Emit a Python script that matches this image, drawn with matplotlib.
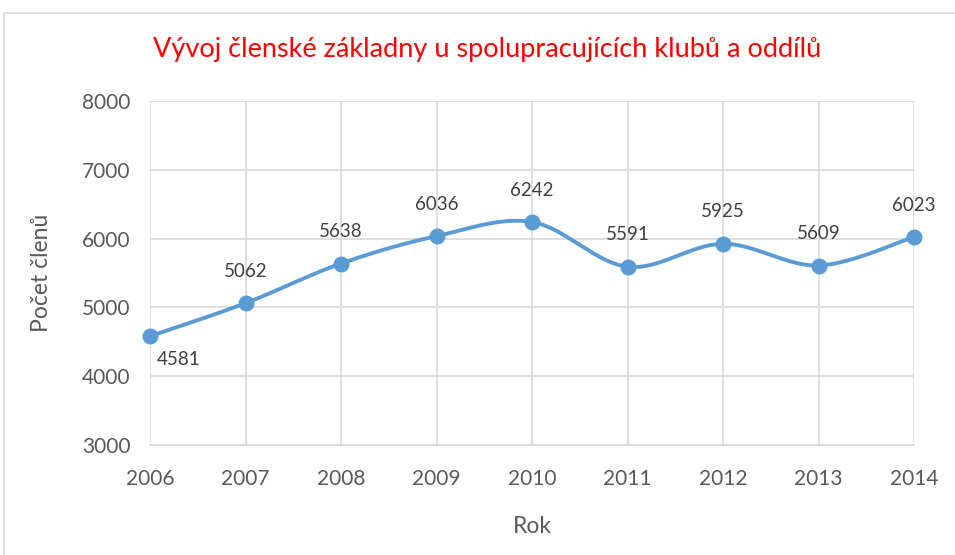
import numpy as np
import matplotlib
matplotlib.use("Agg")
import matplotlib.pyplot as plt
from matplotlib.patches import Rectangle

plt.rcParams['font.family'] = ['Lato', 'DejaVu Sans']

years = [2006, 2007, 2008, 2009, 2010, 2011, 2012, 2013, 2014]
members = [4581, 5062, 5638, 6036, 6242, 5591, 5925, 5609, 6023]
yticks = [3000, 4000, 5000, 6000, 7000, 8000]

title = "Vývoj členské základny u spolupracujících klubů a oddílů"
xlabel = "Rok"
ylabel = "Počet členů"

line_color = "#5B9BD5"
text_color = "#595959"
grid_color = "#D9D9D9"


def smooth(x, y, n=40):
    # Excel-like smoothing: cubic bezier with catmull-rom control points
    x = np.asarray(x, float)
    y = np.asarray(y, float)
    px = np.concatenate([[x[0]], x, [x[-1]]])
    py = np.concatenate([[y[0]], y, [y[-1]]])
    xs, ys = [], []
    t = np.linspace(0, 1, n)
    for i in range(1, len(px) - 2):
        p0 = np.array([px[i], py[i]])
        p3 = np.array([px[i + 1], py[i + 1]])
        c1 = p0 + (np.array([px[i + 1], py[i + 1]]) - np.array([px[i - 1], py[i - 1]])) / 6
        c2 = p3 - (np.array([px[i + 2], py[i + 2]]) - np.array([px[i], py[i]])) / 6
        b = ((1 - t) ** 3)[:, None] * p0 + (3 * (1 - t) ** 2 * t)[:, None] * c1 \
            + (3 * (1 - t) * t ** 2)[:, None] * c2 + (t ** 3)[:, None] * p3
        xs.extend(b[:, 0])
        ys.extend(b[:, 1])
    return np.array(xs), np.array(ys)


fig = plt.figure(figsize=(9.55, 5.55), dpi=100)
fig.patches.append(Rectangle((4 / 955, -0.1), 1.2, 1 - 13 / 555 + 0.1,
                             transform=fig.transFigure, fill=False,
                             edgecolor="#D9D9D9", lw=1.2))

ax = fig.add_axes([150 / 955, 1 - 445 / 555, (914 - 150) / 955, (445 - 101) / 555])

sx, sy = smooth(years, members)
ax.plot(sx, sy, color=line_color, lw=2.8, solid_capstyle="round", zorder=3, clip_on=False)
ax.plot(years, members, "o", color=line_color, ms=10.5, zorder=4, clip_on=False)

for i, (x, v) in enumerate(zip(years, members)):
    if i == 0:
        ax.annotate(str(v), (x, v), xytext=(5, -17), textcoords="offset points",
                    ha="left", va="center", fontsize=13.5, color="#404040")
    else:
        ax.annotate(str(v), (x, v), xytext=(0, 23), textcoords="offset points",
                    ha="center", va="center", fontsize=13.5, color="#404040")

ax.set_xlim(years[0], years[-1])
ax.set_ylim(yticks[0], yticks[-1])
ax.set_xticks(years)
ax.set_yticks(yticks)
ax.set_xticklabels([str(y) for y in years])
ax.grid(True, color=grid_color, lw=1.2)
ax.set_axisbelow(True)
for s in ["top", "right", "left"]:
    ax.spines[s].set_visible(False)
ax.spines["bottom"].set_color(grid_color)
ax.spines["bottom"].set_linewidth(1.2)
ax.tick_params(length=0, labelsize=15, colors=text_color, pad=14)
ax.tick_params(axis="x", pad=17)

ax.set_xlabel(xlabel, fontsize=16.5, color=text_color, labelpad=20)
ax.set_ylabel(ylabel, fontsize=16.5, color=text_color, labelpad=22)

fig.text(487 / 955, 1 - 50 / 555, title, ha="center", va="center",
         fontsize=19.5, color="#FF0000")

fig.savefig("out.png", dpi=100)
